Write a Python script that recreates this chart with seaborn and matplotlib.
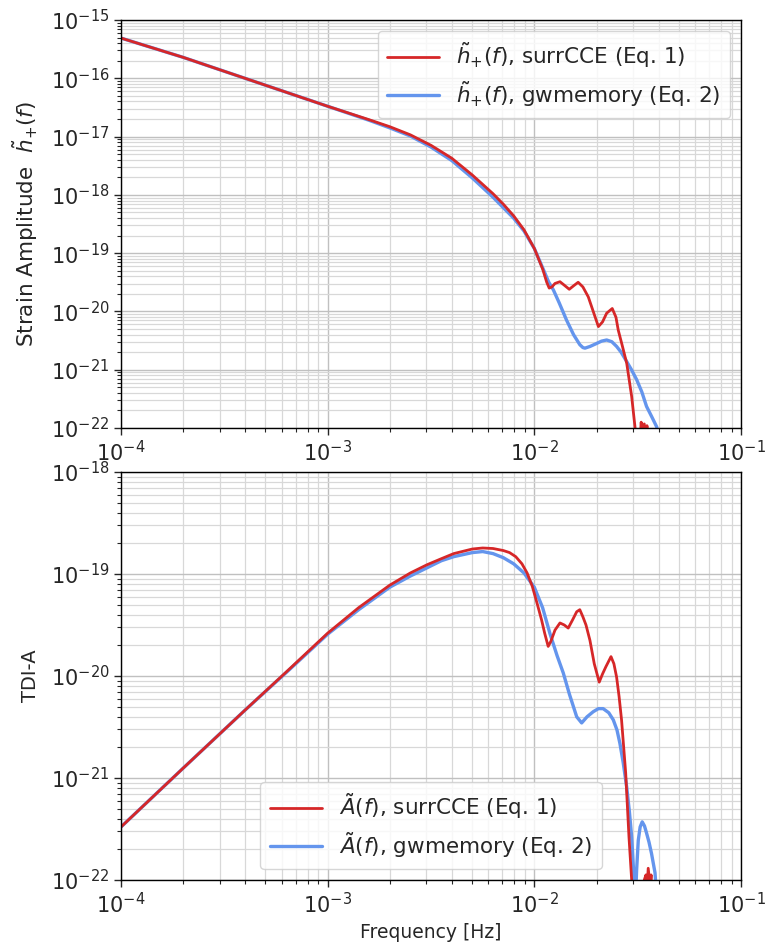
import numpy as np
import pandas as pd
import matplotlib
matplotlib.use("Agg")
import matplotlib.pyplot as plt
import matplotlib.ticker as mticker
import seaborn as sns

# ---------------- data (as log10 values) ----------------
# Top panel: strain amplitude h+(f), surrCCE
log_f_top_surr = [-4.0, -3.7, -3.4, -3.2, -3.0, -2.8, -2.7, -2.6, -2.5, -2.4, -2.3, -2.2,
                  -2.15, -2.1, -2.05, -2.0, -1.96, -1.94, -1.928, -1.915, -1.9, -1.876,
                  -1.855, -1.831, -1.81, -1.788, -1.765, -1.739, -1.715, -1.69, -1.67,
                  -1.65, -1.623, -1.605, -1.594, -1.575, -1.553, -1.529, -1.513, -1.50,
                  -1.49, -1.483, -1.476, -1.468, -1.461, -1.455, -1.447, -1.44]
log_h_top_surr = [-15.31, -15.64, -16.00, -16.24, -16.48, -16.71, -16.83, -16.97, -17.15,
                  -17.37, -17.66, -17.98, -18.16, -18.36, -18.60, -18.92, -19.27, -19.50,
                  -19.60, -19.58, -19.52, -19.49, -19.55, -19.62, -19.56, -19.50, -19.58,
                  -19.75, -20.00, -20.26, -20.18, -20.03, -19.95, -20.10, -20.32, -20.58,
                  -20.89, -21.46, -21.98, -22.5, -22.3, -21.90, -22.2, -21.93, -22.2,
                  -21.96, -22.3, -22.6]

# Top panel: gwmemory
log_f_top_gwm = [-4.0, -3.7, -3.4, -3.2, -3.0, -2.8, -2.7, -2.6, -2.5, -2.4, -2.3, -2.2,
                 -2.1, -2.05, -2.0, -1.96, -1.93, -1.908, -1.88, -1.844, -1.81, -1.78,
                 -1.765, -1.755, -1.73, -1.699, -1.675, -1.65, -1.625, -1.602, -1.58,
                 -1.553, -1.53, -1.505, -1.48, -1.457, -1.43, -1.408, -1.39]
log_h_top_gwm = [-15.31, -15.64, -16.00, -16.24, -16.48, -16.72, -16.85, -16.99, -17.18,
                 -17.41, -17.71, -18.04, -18.40, -18.62, -18.92, -19.25, -19.50, -19.63,
                 -19.85, -20.15, -20.40, -20.57, -20.62, -20.63, -20.60, -20.55, -20.51,
                 -20.49, -20.52, -20.60, -20.70, -20.86, -21.00, -21.17, -21.38, -21.63,
                 -21.82, -21.98, -22.3]

# Bottom panel: TDI-A, surrCCE
log_f_bot_surr = [-4.0, -3.7, -3.4, -3.2, -3.0, -2.85, -2.7, -2.6, -2.52, -2.45, -2.39,
                  -2.3, -2.25, -2.2, -2.15, -2.12, -2.09, -2.06, -2.035, -2.01, -1.985,
                  -1.965, -1.95, -1.933, -1.92, -1.9, -1.876, -1.855, -1.836, -1.815,
                  -1.795, -1.78, -1.765, -1.75, -1.731, -1.71, -1.686, -1.67, -1.654,
                  -1.629, -1.615, -1.602, -1.59, -1.578, -1.558, -1.542, -1.529, -1.52,
                  -1.48, -1.468, -1.46, -1.455, -1.449, -1.44, -1.435, -1.425]
log_a_bot_surr = [-21.48, -20.905, -20.335, -19.96, -19.58, -19.33, -19.11, -18.99, -18.91,
                  -18.85, -18.80, -18.755, -18.745, -18.75, -18.77, -18.79, -18.83, -18.90,
                  -18.99, -19.12, -19.30, -19.45, -19.58, -19.71, -19.66, -19.55, -19.48,
                  -19.50, -19.53, -19.45, -19.37, -19.35, -19.42, -19.50, -19.65, -19.88,
                  -20.06, -19.98, -19.91, -19.81, -19.88, -20.01, -20.20, -20.43, -20.95,
                  -21.58, -22.0, -22.6, -22.5, -22.0, -21.95, -22.1, -21.885, -22.05,
                  -21.95, -22.5]

# Bottom panel: gwmemory
log_f_bot_gwm = [-4.0, -3.7, -3.4, -3.2, -3.0, -2.85, -2.7, -2.6, -2.52, -2.45, -2.39, -2.3,
                 -2.25, -2.2, -2.15, -2.1, -2.05, -2.0, -1.96, -1.925, -1.89, -1.86, -1.83,
                 -1.795, -1.771, -1.745, -1.715, -1.69, -1.667, -1.64, -1.618, -1.6, -1.586,
                 -1.57, -1.553, -1.54, -1.529, -1.52, -1.515, -1.505, -1.497, -1.488,
                 -1.478, -1.467, -1.457, -1.445, -1.433, -1.416, -1.40]
log_a_bot_gwm = [-21.48, -20.905, -20.335, -19.965, -19.59, -19.35, -19.13, -19.02, -18.94,
                 -18.87, -18.83, -18.79, -18.78, -18.80, -18.84, -18.90, -18.99, -19.13,
                 -19.33, -19.58, -19.80, -19.97, -20.18, -20.40, -20.46, -20.40, -20.35,
                 -20.32, -20.32, -20.36, -20.43, -20.53, -20.66, -20.85, -21.09, -21.33,
                 -21.58, -21.90, -22.4, -21.90, -21.61, -21.48, -21.43, -21.47, -21.54,
                 -21.63, -21.74, -21.93, -22.4]

labels_top = [r"$\tilde{h}_{+}(f)$, surrCCE (Eq. 1)", r"$\tilde{h}_{+}(f)$, gwmemory (Eq. 2)"]
labels_bot = [r"$\tilde{A}(f)$, surrCCE (Eq. 1)", r"$\tilde{A}(f)$, gwmemory (Eq. 2)"]

RED = "#d62728"
BLUE = "#6495ed"

# ---------------- style ----------------
sns.set_style("ticks")
plt.rcParams["font.family"] = ["DejaVu Sans"]
plt.rcParams["mathtext.fontset"] = "dejavusans"

fig = plt.figure(figsize=(7.69, 9.44), dpi=100)
ax1 = fig.add_axes([121 / 769, (944 - 428) / 944, 620 / 769, 408 / 944])
ax2 = fig.add_axes([121 / 769, (944 - 880) / 944, 620 / 769, 408 / 944])


def decades(lo, hi):
    e0, e1 = int(round(np.log10(lo))), int(round(np.log10(hi)))
    return [10.0 ** e for e in range(e0, e1 + 1)]


def minors(lo, hi):
    e0, e1 = int(round(np.log10(lo))), int(round(np.log10(hi)))
    return [m * 10.0 ** e for e in range(e0, e1) for m in range(2, 10)]


def draw(ax, lfg, lyg, lfs, lys, labels, ylim, ylabel, ylsize, legloc):
    ax.set_xscale("log")
    ax.set_yscale("log")
    sns.lineplot(x=np.power(10.0, lfg), y=np.power(10.0, lyg), ax=ax, color=BLUE,
                 lw=2.4, label=labels[1], sort=False)
    sns.lineplot(x=np.power(10.0, lfs), y=np.power(10.0, lys), ax=ax, color=RED,
                 lw=2.0, label=labels[0], sort=False)
    ax.set_xlim(1e-4, 1e-1)
    ax.set_ylim(*ylim)
    ax.xaxis.set_major_locator(mticker.FixedLocator(decades(1e-4, 1e-1)))
    ax.yaxis.set_major_locator(mticker.FixedLocator(decades(*ylim)))
    ax.xaxis.set_minor_locator(mticker.FixedLocator(minors(1e-4, 1e-1)))
    ax.yaxis.set_minor_locator(mticker.FixedLocator(minors(*ylim)))
    ax.xaxis.set_major_formatter(mticker.LogFormatterSciNotation())
    ax.yaxis.set_major_formatter(mticker.LogFormatterSciNotation())
    ax.yaxis.set_minor_formatter(mticker.NullFormatter())
    ax.xaxis.set_minor_formatter(mticker.NullFormatter())
    ax.grid(True, which="major", color="#c0c0c0", lw=1.0)
    ax.grid(True, which="minor", color="#d8d8d8", lw=0.9)
    ax.set_axisbelow(True)
    ax.tick_params(which="major", labelsize=15, length=5, width=1, direction="out")
    ax.tick_params(which="minor", length=3, width=0.8, direction="out")
    for s in ax.spines.values():
        s.set_color("black")
        s.set_linewidth(1.0)
    ax.set_ylabel(ylabel, fontsize=ylsize)
    handles, labs = ax.get_legend_handles_labels()
    order = [labs.index(labels[0]), labs.index(labels[1])]
    ax.legend([handles[i] for i in order], [labs[i] for i in order], loc=legloc,
              fontsize=15.5, handlelength=2.4, framealpha=0.8, borderpad=0.45,
              labelspacing=0.38)


draw(ax1, log_f_top_gwm, log_h_top_gwm, log_f_top_surr, log_h_top_surr, labels_top,
     (1e-22, 1e-15), r"Strain Amplitude  $\tilde{h}_{+}(f)$", 15.5, "upper right")
draw(ax2, log_f_bot_gwm, log_a_bot_gwm, log_f_bot_surr, log_a_bot_surr, labels_bot,
     (1e-22, 1e-18), "TDI-A", 14, "lower center")
ax2.set_xlabel("Frequency [Hz]", fontsize=13.5)
ax1.yaxis.set_label_coords(-0.13, 0.5)
ax2.yaxis.set_label_coords(-0.13, 0.5)

fig.savefig("out.png", dpi=100)
